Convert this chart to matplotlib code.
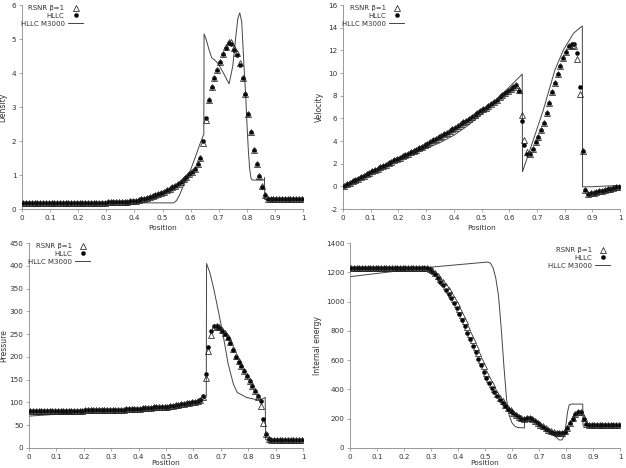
import numpy as np
import matplotlib
matplotlib.use("Agg")
import matplotlib.pyplot as plt

# ---------------- data ----------------
x_cells = np.arange(100) * 0.01 + 0.005

dens_hllc = [0.18]*20 + [0.19]*10 + [
    0.20, 0.20, 0.20, 0.21, 0.21, 0.21, 0.22, 0.22, 0.23, 0.24,
    0.25, 0.26, 0.28, 0.30, 0.32, 0.34, 0.37, 0.40, 0.43, 0.47,
    0.51, 0.55, 0.59, 0.64, 0.69, 0.74, 0.80, 0.87, 0.94, 1.02,
    1.08, 1.17, 1.31, 1.50, 2.00, 2.67, 3.20, 3.58, 3.86, 4.10,
    4.33, 4.55, 4.74, 4.87, 4.86, 4.69, 4.54, 4.25, 3.86, 3.37,
    2.80, 2.26, 1.74, 1.32, 0.96, 0.66, 0.40, 0.30, 0.28, 0.28] + [0.28]*10
dens_rsnr = [0.18]*20 + [0.19]*10 + [
    0.20, 0.20, 0.20, 0.21, 0.21, 0.21, 0.22, 0.22, 0.23, 0.24,
    0.25, 0.26, 0.28, 0.30, 0.32, 0.34, 0.37, 0.40, 0.43, 0.47,
    0.51, 0.55, 0.59, 0.64, 0.69, 0.74, 0.80, 0.87, 0.94, 1.02,
    1.08, 1.17, 1.31, 1.50, 1.95, 2.62, 3.20, 3.58, 3.86, 4.10,
    4.33, 4.56, 4.76, 4.92, 4.90, 4.75, 4.58, 4.28, 3.86, 3.37,
    2.80, 2.26, 1.74, 1.32, 0.98, 0.68, 0.40, 0.30, 0.28, 0.28] + [0.28]*10
dens_line_x = [0, 0.25, 0.26, 0.54, 0.55, 0.56, 0.58, 0.60, 0.62, 0.635, 0.647,
               0.648, 0.655, 0.665, 0.675, 0.69, 0.70, 0.72, 0.737, 0.75, 0.76,
               0.768, 0.775, 0.782, 0.79, 0.796, 0.80, 0.805, 0.81, 0.815, 0.82,
               0.862, 0.863, 0.864, 1.0]
dens_line_y = [0.16, 0.16, 0.18, 0.18, 0.25, 0.40, 0.80, 1.15, 1.60, 1.95, 2.20,
               5.15, 5.00, 4.70, 4.45, 4.35, 4.25, 3.95, 3.68, 4.20, 5.00,
               5.60, 5.77, 5.50, 4.20, 3.36, 2.60, 1.80, 1.20, 0.90, 0.85,
               0.85, 0.92, 0.28, 0.28]

vel_hllc = [
    0.06, 0.19, 0.31, 0.44, 0.57, 0.69, 0.82, 0.95, 1.07, 1.20,
    1.32, 1.44, 1.56, 1.68, 1.80, 1.92, 2.04, 2.16, 2.28, 2.40,
    2.52, 2.64, 2.76, 2.88, 3.00, 3.12, 3.24, 3.37, 3.50, 3.63,
    3.77, 3.91, 4.05, 4.19, 4.33, 4.47, 4.61, 4.75, 4.90, 5.04,
    5.19, 5.34, 5.49, 5.64, 5.80, 5.96, 6.12, 6.28, 6.44, 6.61,
    6.78, 6.95, 7.12, 7.30, 7.48, 7.66, 7.84, 8.02, 8.20, 8.39,
    8.58, 8.77, 8.96, 8.40, 5.78, 3.69, 2.82, 2.82, 3.30, 3.90,
    4.38, 5.00, 5.63, 6.48, 7.33, 8.30, 9.12, 9.90, 10.64, 11.32,
    11.82, 12.37, 12.58, 12.58, 11.76, 8.77, 3.10, -0.32, -0.67, -0.62,
    -0.56, -0.50, -0.44, -0.38, -0.32, -0.26, -0.20, -0.14, -0.08, -0.03]
vel_rsnr = [
    0.06, 0.19, 0.31, 0.44, 0.57, 0.69, 0.82, 0.95, 1.07, 1.20,
    1.32, 1.44, 1.56, 1.68, 1.80, 1.92, 2.04, 2.16, 2.28, 2.40,
    2.52, 2.64, 2.76, 2.88, 3.00, 3.12, 3.24, 3.37, 3.50, 3.63,
    3.77, 3.91, 4.05, 4.19, 4.33, 4.47, 4.61, 4.75, 4.90, 5.04,
    5.19, 5.34, 5.49, 5.64, 5.80, 5.96, 6.12, 6.28, 6.44, 6.61,
    6.78, 6.95, 7.12, 7.30, 7.48, 7.66, 7.84, 8.02, 8.20, 8.39,
    8.58, 8.77, 8.96, 8.50, 6.27, 4.08, 3.05, 2.85, 3.30, 3.90,
    4.38, 5.00, 5.63, 6.48, 7.33, 8.30, 9.12, 9.90, 10.64, 11.32,
    11.82, 12.37, 12.50, 12.37, 11.26, 8.12, 3.10, -0.32, -0.67, -0.62,
    -0.56, -0.50, -0.44, -0.38, -0.32, -0.26, -0.20, -0.14, -0.08, -0.03]
vel_line_x = [0, 0.1, 0.2, 0.3, 0.35, 0.4, 0.45, 0.5, 0.55, 0.6, 0.647,
              0.648, 0.687, 0.723, 0.765, 0.795, 0.832, 0.856, 0.864,
              0.865, 0.9, 1.0]
vel_line_y = [0, 1.25, 2.35, 3.35, 3.85, 4.50, 5.35, 6.35, 7.50, 8.75, 9.90,
              1.29, 4.09, 6.73, 10.26, 12.0, 13.5, 14.0, 14.15,
              -0.05, -0.03, 0.08]

pres_hllc = [82]*20 + [83]*10 + [
    83, 83, 84, 84, 84, 85, 85, 85, 86, 86,
    86, 87, 87, 88, 88, 89, 89, 90, 90, 91,
    91, 92, 93, 94, 95, 96, 97, 98, 99, 100,
    101, 103, 106, 114, 163, 222, 257, 267, 267, 264,
    257, 250, 241, 230, 215, 200, 189, 179, 169, 158,
    148, 137, 126, 115, 104, 64, 31, 19, 18, 18] + [18]*10
pres_rsnr = [82]*20 + [83]*10 + [
    83, 83, 84, 84, 84, 85, 85, 85, 86, 86,
    86, 87, 87, 88, 88, 89, 89, 90, 90, 91,
    91, 92, 93, 94, 95, 96, 97, 98, 99, 100,
    101, 103, 106, 112, 154, 212, 248, 265, 267, 265,
    259, 252, 243, 232, 217, 202, 190, 180, 170, 159,
    148, 137, 125, 113, 93, 55, 31, 19, 18, 18] + [18]*10
pres_line_x = [0, 0.1, 0.2, 0.3, 0.4, 0.5, 0.6, 0.64, 0.647, 0.648, 0.66, 0.673,
               0.691, 0.709, 0.727, 0.746, 0.76, 0.794, 0.831, 0.849, 0.862,
               0.864, 1.0]
pres_line_y = [70, 74, 79, 82, 85, 89, 98, 108, 112, 405, 385, 353,
               301, 246, 184, 140, 122, 111, 106, 107, 111,
               18, 18]

ener_hllc = [1230]*28 + [
    1228, 1220,
    1205, 1185, 1160, 1135, 1110, 1082, 1055, 1025, 990, 955,
    915, 873, 830, 787, 745, 700, 655, 610, 565, 520,
    480, 443, 410, 380, 352, 327, 305, 285, 268, 252,
    238, 225, 212, 200, 196, 205, 207, 198, 185, 170,
    157, 145, 133, 122, 112, 105, 101, 100, 103, 112,
    135, 168, 200, 230, 245, 245, 200, 162, 157, 157] + [157]*10
ener_rsnr = [1232]*28 + [
    1230, 1225,
    1213, 1195, 1175, 1155, 1132, 1107, 1080, 1052, 1020, 985,
    948, 908, 866, 823, 780, 736, 692, 647, 602, 557,
    514, 474, 437, 403, 372, 343, 318, 295, 276, 258,
    242, 228, 215, 203, 198, 206, 208, 200, 187, 172,
    159, 147, 135, 124, 114, 106, 102, 101, 104, 113,
    136, 170, 203, 232, 248, 248, 205, 165, 158, 158] + [158]*10
ener_line_x = [0, 0.28, 0.51, 0.52, 0.53, 0.54, 0.55, 0.56, 0.57, 0.58, 0.59,
               0.60, 0.61, 0.62, 0.646, 0.647, 0.66, 0.68, 0.70, 0.72, 0.74,
               0.76, 0.775, 0.785, 0.795, 0.80, 0.805, 0.812, 0.82, 0.862,
               0.863, 1.0]
ener_line_y = [1170, 1232, 1270, 1262, 1230, 1160, 1040, 820, 560, 330, 220,
               172, 150, 140, 137, 200, 205, 185, 160, 135, 110,
               80, 55, 55, 90, 160, 240, 295, 300, 300,
               155, 155]

label_rsnr = "RSNR β=1"
label_hllc = "HLLC"
label_ref = "HLLC M3000"
x_ticks = [0, 0.1, 0.2, 0.3, 0.4, 0.5, 0.6, 0.7, 0.8, 0.9, 1]
x_tick_labels = ["0", "0.1", "0.2", "0.3", "0.4", "0.5", "0.6", "0.7", "0.8", "0.9", "1"]

# ---------------- drawing ----------------
plt.rcParams['font.family'] = ['DejaVu Sans']
fig = plt.figure(figsize=(6.26, 4.68), dpi=100)

W, H = 626.0, 468.0
def rect(l, r, t, b):
    return [l / W, 1 - b / H, (r - l) / W, (b - t) / H]

panels = [
    dict(rect=rect(22, 303, 5, 209), rsnr=dens_rsnr, hllc=dens_hllc,
         lx=dens_line_x, ly=dens_line_y, ylim=(0, 6), yticks=np.arange(0, 7, 1),
         ylabel="Density", legloc="upper left", legbox=(-0.02, 1.02), ylp=3, xlp=3),
    dict(rect=rect(343, 620, 5, 209), rsnr=vel_rsnr, hllc=vel_hllc,
         lx=vel_line_x, ly=vel_line_y, ylim=(-2, 16), yticks=np.arange(-2, 17, 2),
         ylabel="Velocity", legloc="upper left", legbox=(-0.02, 1.02), ylp=3, xlp=3),
    dict(rect=rect(29, 303, 243, 448), rsnr=pres_rsnr, hllc=pres_hllc,
         lx=pres_line_x, ly=pres_line_y, ylim=(0, 450), yticks=np.arange(0, 451, 50),
         ylabel="Pressure", legloc="upper left", legbox=(-0.02, 1.02), ylp=1, xlp=0.5),
    dict(rect=rect(350, 620, 243, 448), rsnr=ener_rsnr, hllc=ener_hllc,
         lx=ener_line_x, ly=ener_line_y, ylim=(0, 1400), yticks=np.arange(0, 1401, 200),
         ylabel="Internal energy", legloc="upper right", legbox=(0.98, 1.0), ylp=3, xlp=0.5),
]

grey = "#888888"
for p in panels:
    ax = fig.add_axes(p["rect"])
    ax.plot(p["lx"], p["ly"], color="#444444", lw=0.7, label=label_ref, zorder=2)
    ax.plot(x_cells, p["hllc"], linestyle="none", marker="o", ms=2.9,
            mfc="black", mec="black", mew=0.3, label=label_hllc, zorder=3)
    ax.plot(x_cells, p["rsnr"], linestyle="none", marker="^", ms=3.7,
            mfc="none", mec="#222222", mew=0.55, label=label_rsnr, zorder=4)
    ax.set_xlim(0, 1)
    ax.set_ylim(*p["ylim"])
    ax.set_xticks(x_ticks)
    ax.set_xticklabels(x_tick_labels)
    ax.set_yticks(p["yticks"])
    ax.set_yticklabels([str(int(v)) for v in p["yticks"]])
    for s in ["top", "right"]:
        ax.spines[s].set_visible(False)
    for s in ["left", "bottom"]:
        ax.spines[s].set_color(grey)
        ax.spines[s].set_linewidth(0.6)
    ax.tick_params(axis="both", labelsize=5.2, colors="#333333", length=2,
                   width=0.5, pad=2, direction="out")
    ax.tick_params(axis="both", color=grey)
    ax.set_xlabel("Position", fontsize=5.3, color="#333333", labelpad=p["xlp"])
    ax.set_ylabel(p["ylabel"], fontsize=5.5, color="#333333", labelpad=p["ylp"])
    h, l = ax.get_legend_handles_labels()
    order = [2, 1, 0]
    leg = ax.legend([h[i] for i in order], [l[i] for i in order],
                    loc=p["legloc"], bbox_to_anchor=p["legbox"], frameon=False,
                    markerfirst=False, fontsize=5, handlelength=2.2,
                    handletextpad=0.5, labelspacing=0.25, borderaxespad=0.2)
    for t in leg.get_texts():
        t.set_color("#333333")
        t.set_ha("right")

fig.savefig("out.png", dpi=100)
